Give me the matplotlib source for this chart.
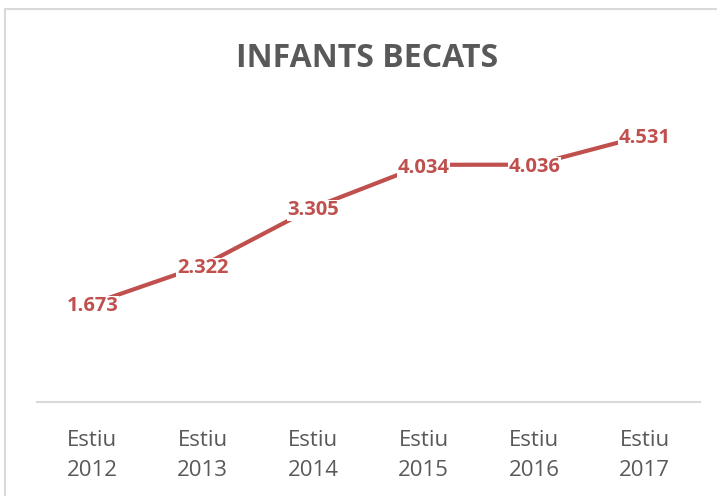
import matplotlib.pyplot as plt
from matplotlib.patches import Rectangle

plt.rcParams['font.family'] = ['Open Sans', 'DejaVu Sans']

years = ['Estiu\n2012', 'Estiu\n2013', 'Estiu\n2014', 'Estiu\n2015', 'Estiu\n2016', 'Estiu\n2017']
infants = [1673, 2322, 3305, 4034, 4036, 4531]
labels = ['1.673', '2.322', '3.305', '4.034', '4.036', '4.531']

RED = '#C0504D'
GRAY = '#D9D9D9'

fig = plt.figure(figsize=(7.17, 4.96), dpi=100)
ax = fig.add_axes([37 / 717, 1 - 402 / 496, 663 / 717, 294 / 496])

x = range(len(years))
ax.plot(x, infants, color=RED, linewidth=3, solid_capstyle='butt', zorder=2)
for xi, v, lab in zip(x, infants, labels):
    ax.annotate(lab, (xi, v), xytext=(0, -2), textcoords='offset points',
                ha='center', va='center', color=RED, fontsize=14.5,
                fontweight='bold', zorder=3,
                bbox=dict(facecolor='white', edgecolor='none', pad=0.5))

ax.set_xlim(-0.5, 5.5)
ax.set_ylim(0, 5000)
ax.set_xticks(list(x))
ax.set_xticklabels(years, fontsize=16, color='#595959', linespacing=1.6)
ax.tick_params(axis='x', length=0, pad=20)
ax.set_yticks([])
for side in ['left', 'right', 'top']:
    ax.spines[side].set_visible(False)
ax.spines['bottom'].set_color(GRAY)
ax.spines['bottom'].set_linewidth(1.5)

fig.text(367 / 717, 1 - 67 / 496, 'INFANTS BECATS', ha='center', va='baseline',
         fontsize=23, fontweight='bold', color='#595959')

# chart area border (right and bottom edges fall outside the picture)
fig.patches.append(Rectangle((5 / 717, -0.1), 1.2, 1.1 - 9 / 496,
                             transform=fig.transFigure, fill=False,
                             edgecolor=GRAY, linewidth=1.5))

fig.savefig('out.png', dpi=100)
